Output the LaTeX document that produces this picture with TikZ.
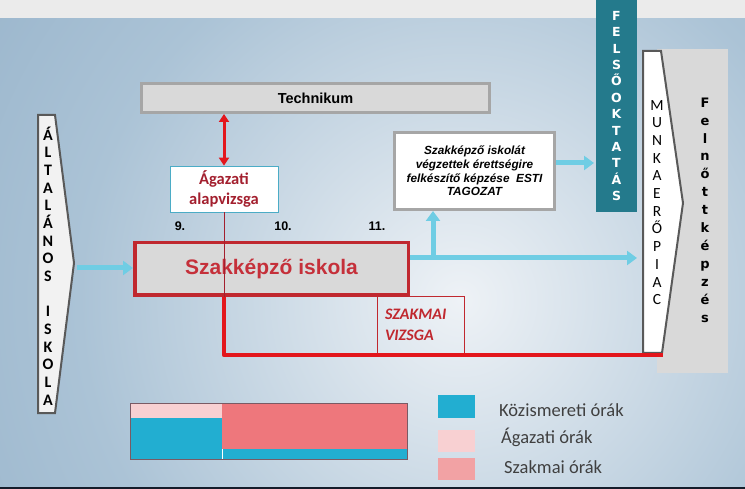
\documentclass[tikz,border=0pt]{standalone}
\usepackage{fontspec}
\setmainfont{Liberation Sans}
\newfontfamily\carlito{Carlito}
\newfontfamily\dejavu{DejaVu Sans}
\usetikzlibrary{arrows.meta}
\definecolor{topgray}{HTML}{EBEBEB}
\definecolor{bgout}{HTML}{7B9DBA}
\definecolor{bgmid}{HTML}{ABC3D6}
\definecolor{bgin}{HTML}{EEF2F6}
\definecolor{boxgray}{HTML}{D9D9D9}
\definecolor{bordgray}{HTML}{A6A6A6}
\definecolor{schoolred}{HTML}{C0282F}
\definecolor{textred}{HTML}{C5303A}
\definecolor{darkred}{HTML}{A31F2E}
\definecolor{brightred}{HTML}{E3161C}
\definecolor{arrowblue}{HTML}{6FCDE4}
\definecolor{tealbox}{HTML}{247A8C}
\definecolor{tealline}{HTML}{4BACC6}
\definecolor{cyanbar}{HTML}{22AED1}
\definecolor{lightpink}{HTML}{F8D0D2}
\definecolor{salmonbar}{HTML}{EE777C}
\definecolor{salmonleg}{HTML}{F2A2A4}
\definecolor{legtext}{HTML}{404040}
\definecolor{navystrip}{HTML}{141C2A}
\definecolor{shapeborder}{HTML}{595959}
\definecolor{barborder}{HTML}{7A5A64}
\pgfdeclareradialshading{bgshade}{\pgfpoint{0bp}{0bp}}{color(0bp)=(bgin); color(10bp)=(bgmid); color(25bp)=(bgout); color(50bp)=(bgout)}
\tikzset{
  bluearrow/.style={arrowblue, line width=5pt, -{Triangle[width=14pt,length=10pt]}},
  redarrow/.style={brightred, line width=3pt, {Triangle[width=10pt,length=8pt]}-{Triangle[width=10pt,length=8pt]}},
  graybox/.style={fill=boxgray, draw=bordgray, line width=3pt, inner sep=0pt},
  whitebox/.style={fill=white, draw=bordgray, line width=3pt, inner sep=0pt},
  vletters/.style={align=center, inner sep=0pt},
  numlabel/.style={font=\bfseries\fontsize{12.5}{14}\selectfont, inner sep=0pt},
  legendtext/.style={font=\carlito\fontsize{18.5}{22}\selectfont, text=legtext, anchor=west, inner sep=0pt},
  arrowshape/.style={draw=shapeborder, line width=2pt, line join=miter}
}
\begin{document}
\begin{tikzpicture}[x=1pt,y=-1pt]
\useasboundingbox (0,0) rectangle (745,489);
% background
\fill[topgray] (0,0) rectangle (745,19);
\begin{scope}
  \clip (0,19) rectangle (745,487);
  \shade[shading=bgshade] (460,300) circle (950);
\end{scope}
\fill[navystrip] (0,487) rectangle (745,489);

% Felsooktatas
\node[fill=tealbox, minimum width=41pt, minimum height=212pt, inner sep=0pt, text=white,
      font=\dejavu\bfseries\fontsize{12.5}{16.4}\selectfont, align=center] (felso) at (616.5,106)
  {F\\E\\L\\S\\Ő\\O\\K\\T\\A\\T\\Á\\S};

% Felnottkepzes
\node[fill=boxgray, minimum width=71pt, minimum height=324pt, inner sep=0pt] (felnott) at (692.5,211) {};
\node[vletters, font=\dejavu\bfseries\fontsize{13}{17.9}\selectfont] (felnotttext) at (705,210)
  {F\\e\\l\\n\\ő\\t\\t\\k\\é\\p\\z\\é\\s};

% Munkaeropiac shape
\draw[arrowshape, fill=white] (643,51) -- (661,51) -- (683,203) -- (662,353) -- (643,353) -- cycle;
\node[vletters, font=\carlito\fontsize{15.5}{17.7}\selectfont] (munka) at (657,202.5)
  {M\\U\\N\\K\\A\\E\\R\\Ő\\P\\I\\A\\C};

% Altalanos iskola shape
\draw[arrowshape, fill=white!95!black] (38,115) -- (55,115) -- (74,263) -- (55,413) -- (38,413) -- cycle;
\node[vletters, font=\carlito\bfseries\fontsize{16}{17.67}\selectfont] (altal) at (48,266)
  {Á\\L\\T\\A\\L\\Á\\N\\O\\S\\[17.67pt]I\\S\\K\\O\\L\\A};

% Technikum
\node[graybox, minimum width=348pt, minimum height=29pt, font=\bfseries\fontsize{14.5}{16}\selectfont] (tech) at (315.5,98) {Technikum};

% Agazati alapvizsga
\node[fill=white, draw=tealline, line width=0.8pt, minimum width=108pt, minimum height=46pt, inner sep=0pt,
      align=center, text=darkred, font=\carlito\bfseries\fontsize{16.5}{20}\selectfont] (agazati) at (224,189)
  {Ágazati\\alapvizsga};

% Szakkepzo iskola
\node[fill=boxgray, draw=schoolred, line width=3.5pt, minimum width=273.5pt, minimum height=52.5pt, inner sep=0pt,
      text=textred, font=\bfseries\fontsize{21}{24}\selectfont] (school) at (271.5,269) {Szakképző iskola};

% Esti tagozat
\node[whitebox, minimum width=160pt, minimum height=77pt, align=center,
      font=\bfseries\itshape\fontsize{11.8}{13.7}\selectfont] (esti) at (474.5,171)
  {Szakképző iskolát\\végzettek érettségire\\felkészítő képzése\ \ ESTI\\TAGOZAT};

% year numbers
\node[numlabel] (n9) at (180,226) {9.};
\node[numlabel] (n10) at (283,226) {10.};
\node[numlabel] (n11) at (377,226) {11.};

% Szakmai vizsga
\node[draw=schoolred, line width=0.8pt, minimum width=87pt, minimum height=57pt, inner xsep=8pt, inner ysep=0pt,
      text width=71pt, align=left, text=schoolred, font=\carlito\bfseries\itshape\fontsize{16}{21}\selectfont] (vizsga) at (420.5,324.5)
  {SZAKMAI\\VIZSGA};

% connectors
\coordinate (altaltip) at (77,268);
\coordinate (munkain) at (637,258);
\coordinate (branch) at (433,258);
\coordinate (felsoin) at (594,163);
\coordinate (redend) at (663,355);

\draw[redarrow] (agazati.north |- tech.south) -- (agazati.north);
\draw[darkred, line width=0.8pt] (agazati.south) -- (agazati.south |- school.south);
\draw[brightred, line width=4.5pt, line join=round] (agazati.south |- school.south) |- (redend);

\draw[bluearrow] (altaltip) -- (school.west |- altaltip);
\draw[arrowblue, line width=5pt] (school.east |- munkain) -- (branch);
\draw[bluearrow] (branch) -- (munkain);
\draw[bluearrow] (branch) -- (branch |- esti.south);
\draw[bluearrow] (esti.east |- felsoin) -- (felsoin);

% bar chart
\fill[lightpink] (130,403) rectangle (222,418);
\fill[cyanbar] (130,418) rectangle (222,459);
\fill[salmonbar] (222,403) rectangle (407,449);
\fill[cyanbar] (222,449) rectangle (407,459);
\draw[white, line width=0.7pt] (222.5,449) -- (222.5,459);
\draw[barborder, line width=0.8pt] (130,403) rectangle (407,459);

% legend
\fill[cyanbar] (438,395) rectangle (475,418);
\fill[lightpink] (438,430) rectangle (475,452);
\fill[salmonleg] (438,458) rectangle (475,480);
\node[legendtext] (leg1) at (499,410) {Közismereti órák};
\node[legendtext] (leg2) at (501,437) {Ágazati órák};
\node[legendtext] (leg3) at (504,467) {Szakmai órák};
\end{tikzpicture}
\end{document}
